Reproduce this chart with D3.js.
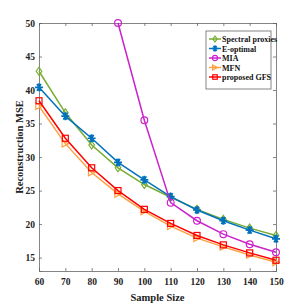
<!DOCTYPE html>
<html>
<head>
<meta charset="utf-8">
<script src="https://cdn.jsdelivr.net/npm/d3@7"></script>
<style>
  body { margin: 0; background: #fff; }
  text { font-family: "Liberation Serif", "Times New Roman", serif; font-weight: bold; }
</style>
</head>
<body>
<div id="chart"></div>
<script>
var sampleSizes = [60, 70, 80, 90, 100, 110, 120, 130, 140, 150];
var spectral = [42.8, 36.6, 31.8, 28.4, 25.9, 24.0, 22.2, 20.7, 19.4, 18.3];
var eoptimal = [40.4, 36.1, 32.8, 29.2, 26.6, 24.1, 22.1, 20.5, 19.1, 17.8];
var miaX = [90, 100, 110, 120, 130, 140, 150];
var mia = [50.0, 35.5, 23.2, 20.5, 18.5, 17.0, 15.8];
var mfn = [37.6, 32.0, 27.7, 24.5, 21.9, 19.7, 17.9, 16.6, 15.4, 14.3];
var gfs = [38.4, 32.8, 28.4, 25.0, 22.2, 20.1, 18.3, 16.9, 15.7, 14.6];
var yTicks = [15, 20, 25, 30, 35, 40, 45, 50];

var series = [
  {name: "Spectral proxies", xs: sampleSizes, ys: spectral, color: "#77ac30", marker: "diamond"},
  {name: "E-optimal", xs: sampleSizes, ys: eoptimal, color: "#0072bd", marker: "star"},
  {name: "MIA", xs: miaX, ys: mia, color: "#cc22cc", marker: "circle"},
  {name: "MFN", xs: sampleSizes, ys: mfn, color: "#ffa040", marker: "tri"},
  {name: "proposed GFS", xs: sampleSizes, ys: gfs, color: "#ff0000", marker: "square"}
];

var margin = {top: 23, right: 29, bottom: 34, left: 39},
  width = 305 - margin.left - margin.right,
  height = 305 - margin.top - margin.bottom;

var svg = d3.select("#chart")
  .append("svg")
    .attr("width", 305)
    .attr("height", 305)
  .append("g")
    .attr("transform", "translate(" + margin.left + "," + margin.top + ")");

var x = d3.scaleLinear().domain([60, 150]).range([0, width]);
var y = d3.scaleLinear().domain([13, 50]).range([height, 0]);

// axes, ticks inside like matlab
var xAxis = svg.append("g")
  .attr("transform", "translate(0," + height + ")")
  .call(d3.axisBottom(x).tickValues(sampleSizes).tickSize(-3).tickPadding(7));
var yAxis = svg.append("g")
  .call(d3.axisLeft(y).tickValues(yTicks).tickSize(-3).tickPadding(4));
svg.append("g")
  .call(d3.axisTop(x).tickValues(sampleSizes).tickSize(-3).tickFormat(""));
svg.append("g")
  .attr("transform", "translate(" + width + ",0)")
  .call(d3.axisRight(y).tickValues(yTicks).tickSize(-3).tickFormat(""));

svg.selectAll(".domain, .tick line").attr("stroke", "#666").attr("stroke-width", 0.8);
svg.selectAll(".tick text").attr("fill", "#222").style("font-size", "9.5px")
  .style("font-family", "Liberation Serif").style("font-weight", "bold");

svg.append("text")
  .attr("x", width / 2)
  .attr("y", height + 30)
  .attr("text-anchor", "middle")
  .style("font-size", "10.5px")
  .attr("fill", "#222")
  .text("Sample Size");

svg.append("text")
  .attr("transform", "translate(-16," + (height / 2) + ")rotate(-90)")
  .attr("text-anchor", "middle")
  .style("font-size", "10.5px")
  .attr("fill", "#222")
  .text("Reconstruction MSE");

function drawMarker(g, type, color, s) {
  if (type === "diamond") {
    g.append("path").attr("d", "M0," + (-s) + "L" + (s * 0.7) + ",0L0," + s + "L" + (-s * 0.7) + ",0Z")
      .attr("fill", "none").attr("stroke", color).attr("stroke-width", 1.2);
  } else if (type === "star") {
    var p = "";
    [0, 60, 120].forEach(function(a) {
      var r = a * Math.PI / 180;
      p += "M" + (-s * Math.cos(r)) + "," + (-s * Math.sin(r)) + "L" + (s * Math.cos(r)) + "," + (s * Math.sin(r));
    });
    p += "M0," + (-s) + "L0," + s;
    g.append("path").attr("d", p).attr("stroke", color).attr("stroke-width", 1.6);
  } else if (type === "circle") {
    g.append("circle").attr("r", s * 0.85).attr("fill", "none").attr("stroke", color).attr("stroke-width", 1.2);
  } else if (type === "tri") {
    g.append("path").attr("d", "M" + (-s * 0.8) + "," + (-s * 0.85) + "L" + (s * 0.8) + ",0L" + (-s * 0.8) + "," + (s * 0.85) + "Z")
      .attr("fill", "none").attr("stroke", color).attr("stroke-width", 1.2);
  } else if (type === "square") {
    g.append("rect").attr("x", -s * 0.75).attr("y", -s * 0.75).attr("width", s * 1.5).attr("height", s * 1.5)
      .attr("fill", "none").attr("stroke", color).attr("stroke-width", 1.2);
  }
}

var line = d3.line()
  .x(function(d) { return x(d[0]); })
  .y(function(d) { return y(d[1]); });

series.forEach(function(s) {
  var pts = s.xs.map(function(v, i) { return [v, s.ys[i]]; });
  svg.append("path")
    .datum(pts)
    .attr("d", line)
    .attr("fill", "none")
    .attr("stroke", s.color)
    .attr("stroke-width", 1.5);
  pts.forEach(function(p) {
    var g = svg.append("g").attr("transform", "translate(" + x(p[0]) + "," + y(p[1]) + ")");
    drawMarker(g, s.marker, s.color, 4);
  });
});

// legend
var legend = svg.append("g").attr("transform", "translate(" + (206 - margin.left) + "," + (31 - margin.top) + ")");
legend.append("rect")
  .attr("width", 65)
  .attr("height", 58)
  .attr("fill", "#fff")
  .attr("stroke", "#666")
  .attr("stroke-width", 0.8);
series.forEach(function(s, i) {
  var row = legend.append("g").attr("transform", "translate(0," + (8 + i * 9.5) + ")");
  row.append("line").attr("x1", 3).attr("x2", 15).attr("stroke", s.color).attr("stroke-width", 1.5);
  drawMarker(row.append("g").attr("transform", "translate(9,0)"), s.marker, s.color, 3);
  row.append("text")
    .attr("x", 16)
    .attr("y", 3)
    .style("font-size", "8px")
    .attr("fill", "#111")
    .text(s.name);
});
</script>
</body>
</html>
